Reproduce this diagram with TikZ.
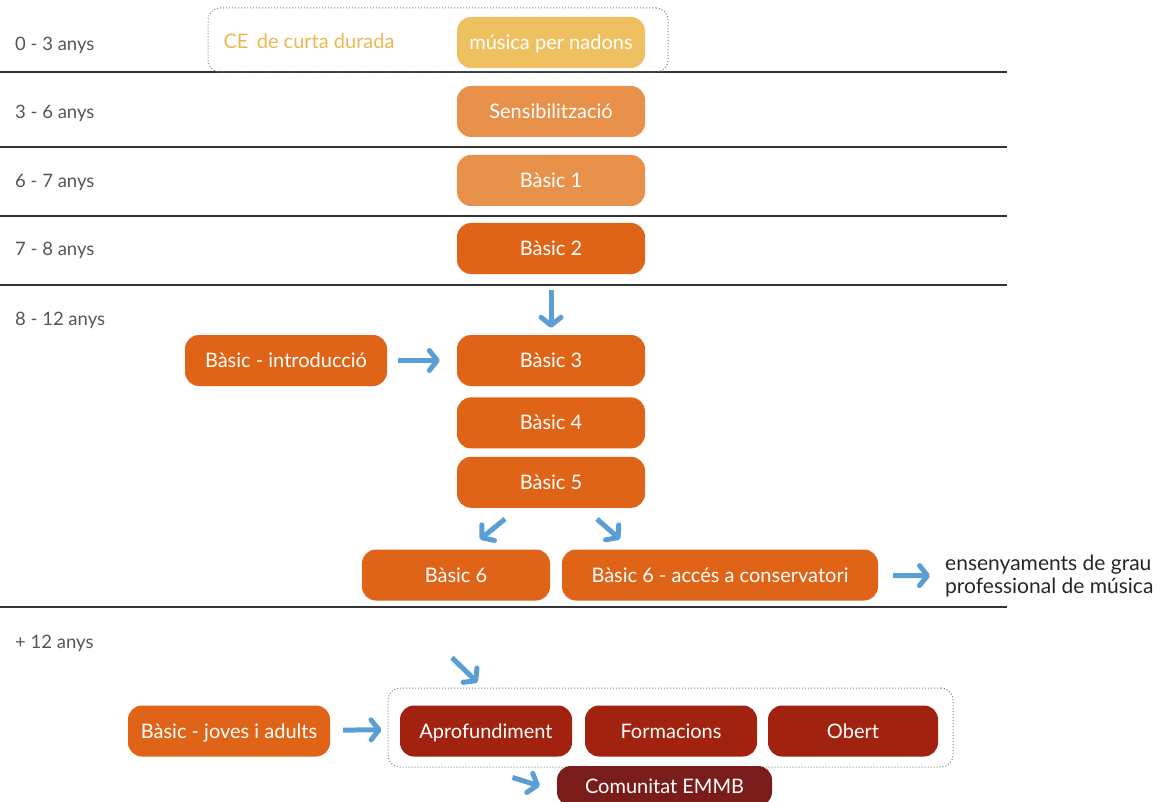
\documentclass[tikz,border=0pt]{standalone}
\usepackage{fontspec}
\setmainfont{Lato}
\usepackage{tikz}
\usetikzlibrary{positioning, arrows.meta}

\definecolor{gold}{HTML}{EBB74F}
\definecolor{nadcol}{HTML}{EFC060}
\definecolor{lightor}{HTML}{E8914A}
\definecolor{orcol}{HTML}{DF6417}
\definecolor{redcol}{HTML}{A1220F}
\definecolor{darkred}{HTML}{7A1D1A}
\definecolor{arrcol}{HTML}{5A9ED6}
\definecolor{labcol}{HTML}{555555}

\begin{document}
\begin{tikzpicture}[x=1pt, y=-1pt, node distance=10pt,
    main/.style={rectangle, rounded corners=14pt, minimum width=188pt, minimum height=51pt, text=white, font=\fontsize{20}{23}\selectfont, text height=15pt, text depth=1pt, inner sep=0pt},
    group/.style={rectangle, rounded corners=12pt, draw=gray, dotted, line width=1pt, inner sep=0pt},
    age/.style={anchor=west, text=labcol, font=\fontsize{18.5}{21}\selectfont, inner sep=0pt},
    arr/.style={draw=arrcol, line width=5pt, -{Straight Barb[round, length=8pt, width=20pt]}},
    sep/.style={draw=black!80, line width=1.6pt}]
        \clip (0,0) rectangle (1166,802);
        \foreach \y in {72,147,216,285,607} \draw[sep] (0,\y) -- (1007,\y);
        \foreach \n/\y/\t in {1/45/0 - 3 anys, 2/113/3 - 6 anys, 3/182/6 - 7 anys, 4/250/7 - 8 anys, 5/320/8 - 12 anys, 6/643/+ 12 anys}
            \node[age] (a\n) at (15,\y) {\t};
        \node[group, minimum width=460pt, minimum height=64pt] (top) at (438,40) {};
        \node[text=gold, font=\fontsize{20}{23}\selectfont] (ce) at (309,41) {CE\, de curta durada};
        \node[main, fill=nadcol] (nadons) at (551,42.5) {música per nadons};
        \node[main, fill=lightor] (sens) at (551,111.5) {Sensibilització};
        \node[main, fill=lightor] (b1) at (551,180.5) {Bàsic 1};
        \node[main, fill=orcol] (b2) at (551,248.5) {Bàsic 2};
        \node[main, fill=orcol] (b3) at (551,360.5) {Bàsic 3};
        \node[main, fill=orcol] (b4) [below=11pt of b3] {Bàsic 4};
        \node[main, fill=orcol] (b5) [below=8pt of b4] {Bàsic 5};
        \node[main, fill=orcol, minimum width=202pt] (intro) at (286,360.5) {Bàsic - introducció};
        \node[main, fill=orcol] (b6) at (456,575) {Bàsic 6};
        \node[main, fill=orcol, minimum width=316pt] (cons) at (720,575) {Bàsic 6 - accés a conservatori};
        \node[age, align=left, font=\fontsize{21}{22.5}\selectfont, text=black!85] (prof) at (945,576) {ensenyaments de grau\\professional de música};
        \node[group, minimum width=565pt, minimum height=79pt] (grp) at (670.5,727.5) {};
        \node[main, fill=orcol, minimum width=202pt] (joves) at (229,731) {Bàsic - joves i adults};
        \node[main, fill=redcol, minimum width=172pt] (apro) at (486,731) {Aprofundiment};
        \node[main, fill=redcol, minimum width=172pt] (form) at (671,731) {Formacions};
        \node[main, fill=redcol, minimum width=170pt] (obert) at (853,731) {Obert};
        \node[main, fill=darkred, minimum width=215pt, minimum height=40pt] (emmb) at (664.5,786) {Comunitat EMMB};
        \draw[arr, shorten <=16pt, shorten >=7pt] (b2) -- (b3);
        \draw[arr, shorten <=11pt, shorten >=17pt] (intro) -- (b3);
        \draw[arr] ([xshift=-46pt, yshift=-11pt]b5.south) -- ([xshift=24pt, yshift=10pt]b6.north);
        \draw[arr] ([xshift=46pt, yshift=-11pt]b5.south) -- ([xshift=-100pt, yshift=10pt]cons.north);
        \draw[arr, shorten <=15pt, shorten >=15pt] (cons) -- (prof);
        \draw[arr] ([xshift=-4pt, yshift=-57pt]b6.south) -- ([xshift=90pt, yshift=5pt]grp.north west);
        \draw[arr, shorten <=13pt, shorten >=6pt] (joves) -- (grp);
        \draw[arr] ([xshift=-158pt, yshift=-10pt]grp.south) -- ([xshift=-17pt]emmb.west);
    \end{tikzpicture}
\end{document}
